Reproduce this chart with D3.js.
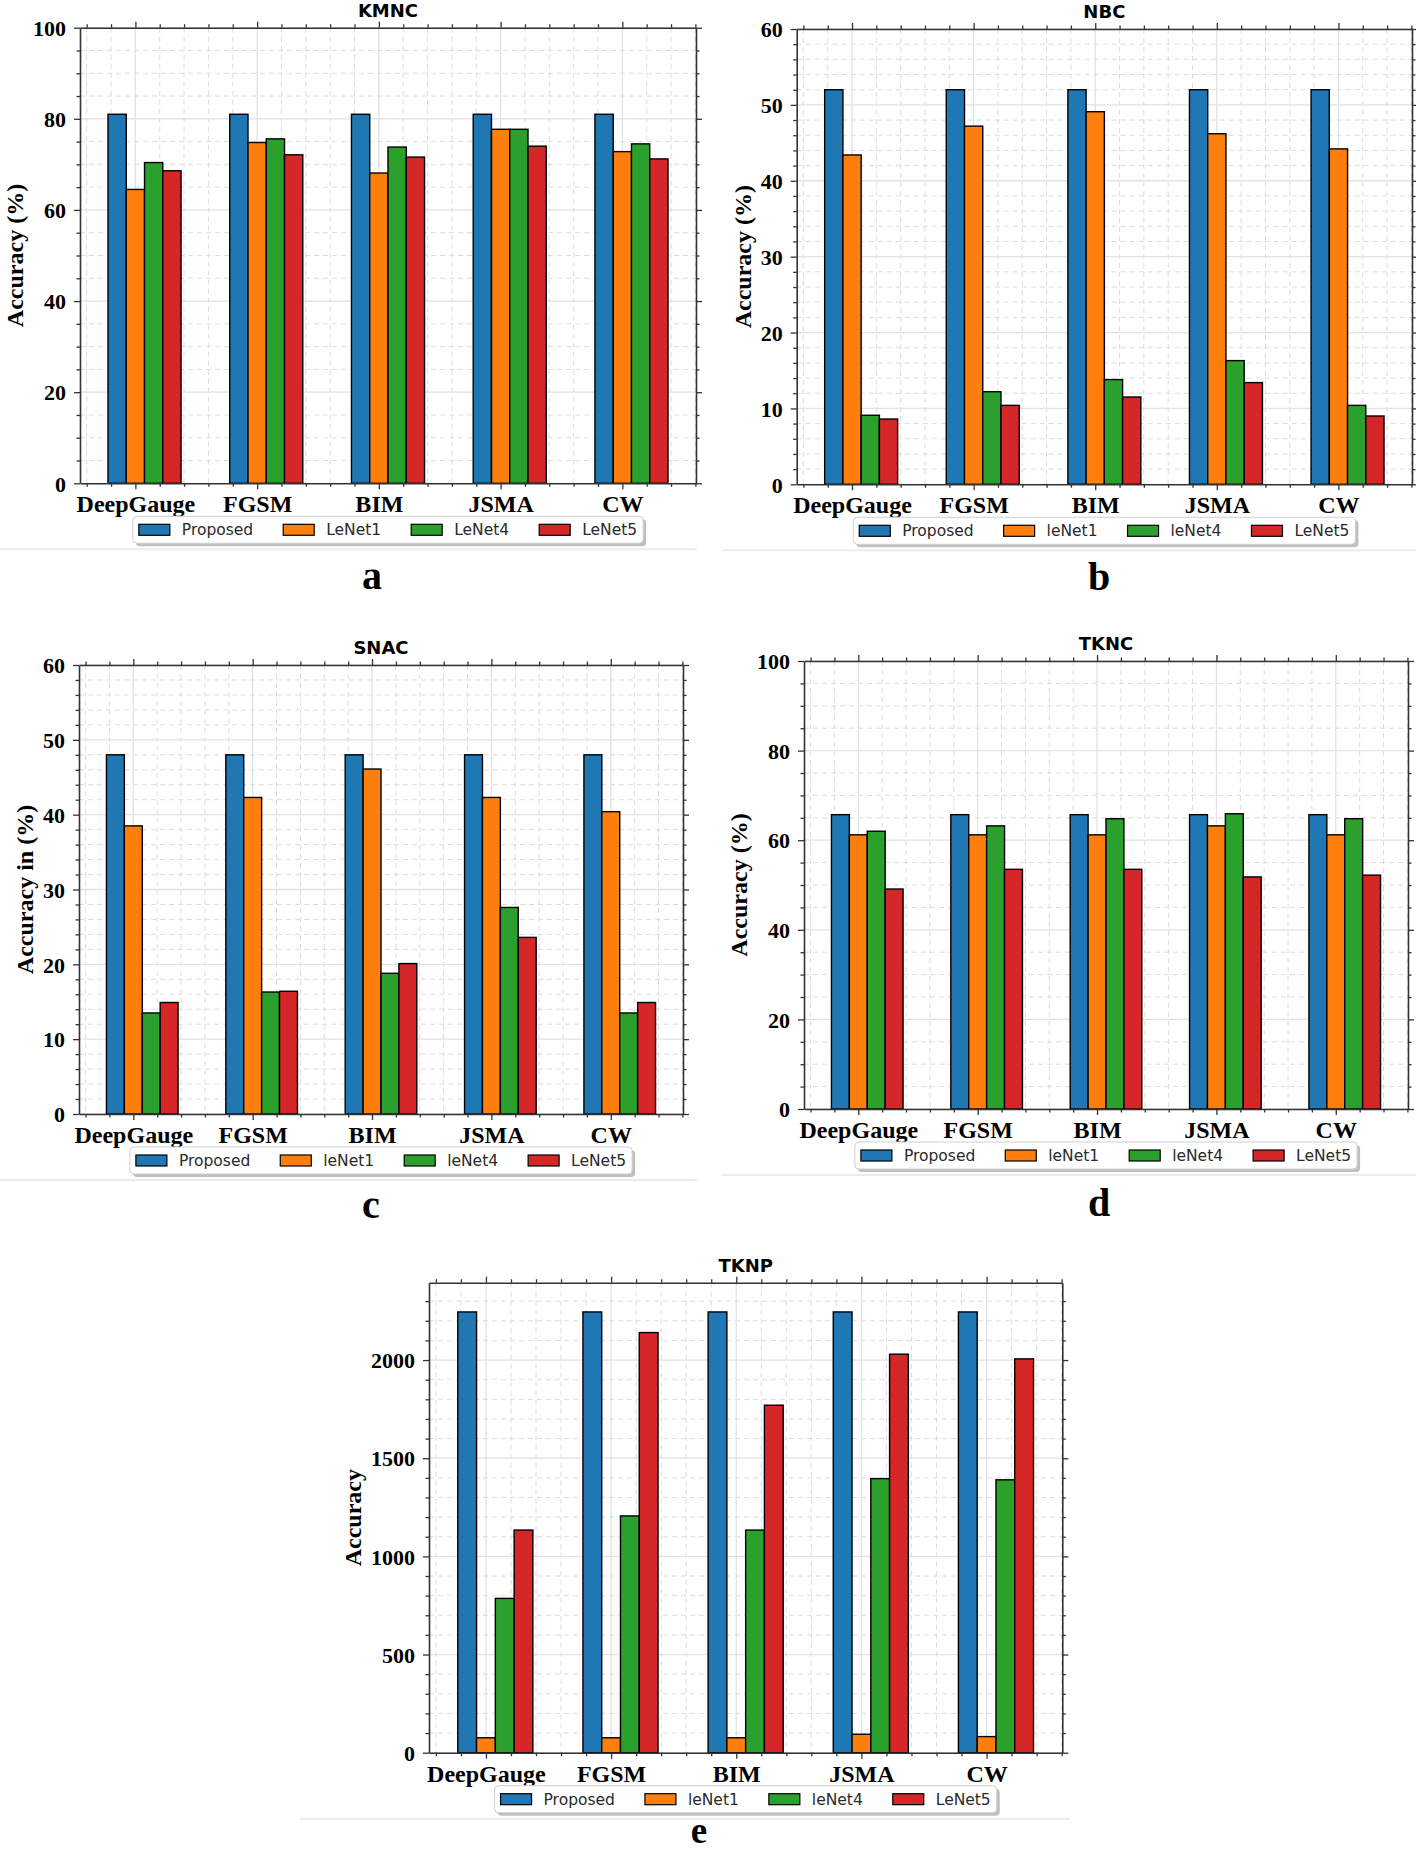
<!DOCTYPE html>
<html><head><meta charset="utf-8">
<script src="https://cdn.jsdelivr.net/npm/d3@7"></script>
<style>body{margin:0;background:#fff}</style>
</head><body>
<svg id="c" width="1416" height="1856" xmlns="http://www.w3.org/2000/svg"></svg>
<script>
// ---------------- data ----------------
const categories = ["DeepGauge", "FGSM", "BIM", "JSMA", "CW"];
const legendA = ["Proposed", "LeNet1", "LeNet4", "LeNet5"];
const legendB = ["Proposed", "leNet1", "leNet4", "LeNet5"];
const seriesColors = ["#1f77b4", "#ff7f0e", "#2ca02c", "#d62728"];

// KMNC
const kmncProposed = [81, 81, 81, 81, 81];
const kmncLeNet1   = [64.5, 74.8, 68.1, 77.7, 72.8];
const kmncLeNet4   = [70.4, 75.6, 73.8, 77.7, 74.5];
const kmncLeNet5   = [68.6, 72.1, 71.6, 74.0, 71.2];
// NBC
const nbcProposed = [52, 52, 52, 52, 52];
const nbcLeNet1   = [43.4, 47.2, 49.1, 46.2, 44.2];
const nbcLeNet4   = [9.1, 12.2, 13.8, 16.3, 10.4];
const nbcLeNet5   = [8.6, 10.4, 11.5, 13.4, 9.0];
// SNAC
const snacProposed = [48, 48, 48, 48, 48];
const snacLeNet1   = [38.5, 42.3, 46.1, 42.3, 40.4];
const snacLeNet4   = [13.5, 16.3, 18.8, 27.6, 13.5];
const snacLeNet5   = [14.9, 16.4, 20.1, 23.6, 14.9];
// TKNC
const tkncProposed = [65.7, 65.7, 65.7, 65.7, 65.7];
const tkncLeNet1   = [61.2, 61.2, 61.2, 63.2, 61.2];
const tkncLeNet4   = [62.0, 63.2, 64.8, 65.9, 64.8];
const tkncLeNet5   = [49.1, 53.5, 53.5, 51.8, 52.2];
// TKNP
const tknpProposed = [2245, 2245, 2245, 2245, 2245];
const tknpLeNet1   = [76, 76, 76, 94, 82];
const tknpLeNet4   = [786, 1206, 1134, 1396, 1390];
const tknpLeNet5   = [1134, 2140, 1770, 2030, 2006];

// tick labels
const ticks100 = [0, 20, 40, 60, 80, 100];
const ticks60  = [0, 10, 20, 30, 40, 50, 60];
const ticksTknp = [0, 500, 1000, 1500, 2000];

// ---------------- drawing ----------------
const svg = d3.select("#c");
const SERIF = "'Liberation Serif','Times New Roman',serif";
const SANS = "'DejaVu Sans',sans-serif";

function drawPanel(p) {
  const g = svg.append("g");
  const x = d3.scaleLinear().domain([-0.455, 4.605]).range([p.left, p.right]);
  const y = d3.scaleLinear().domain([0, p.ymax]).range([p.bottom, p.top]);
  const xMajor = d3.range(categories.length);
  const xMinor = d3.range(-2, 24).filter(k => k % 5 !== 0).map(k => k / 5);
  const nMinor = Math.floor(p.ymax / p.minorStep + 1e-9);
  const yMinor = d3.range(0, nMinor + 1).map(k => k * p.minorStep)
    .filter(v => Math.abs(v / p.majorStep - Math.round(v / p.majorStep)) > 1e-6);

  // minor grid (dashed)
  g.append("g").selectAll("line").data(xMinor).join("line")
    .attr("x1", d => x(d)).attr("x2", d => x(d)).attr("y1", p.top).attr("y2", p.bottom)
    .attr("stroke", "#dcdcdc").attr("stroke-width", 1).attr("stroke-dasharray", "5,4");
  g.append("g").selectAll("line").data(yMinor).join("line")
    .attr("y1", d => y(d)).attr("y2", d => y(d)).attr("x1", p.left).attr("x2", p.right)
    .attr("stroke", "#dcdcdc").attr("stroke-width", 1).attr("stroke-dasharray", "5,4");
  // major grid (solid)
  g.append("g").selectAll("line").data(xMajor).join("line")
    .attr("x1", d => x(d)).attr("x2", d => x(d)).attr("y1", p.top).attr("y2", p.bottom)
    .attr("stroke", "#e2e2e2").attr("stroke-width", 1.3);
  g.append("g").selectAll("line").data(p.ticks).join("line")
    .attr("y1", d => y(d)).attr("y2", d => y(d)).attr("x1", p.left).attr("x2", p.right)
    .attr("stroke", "#e2e2e2").attr("stroke-width", 1.3);

  // bars
  const bw = 0.15;
  g.append("g").selectAll("g").data(p.series).join("g")
    .attr("fill", (d, i) => seriesColors[i])
    .selectAll("rect").data((d, i) => d.map((v, j) => ({ v, j, i }))).join("rect")
    .attr("x", d => x(d.j + (d.i - 1) * bw - bw / 2))
    .attr("width", x(bw) - x(0))
    .attr("y", d => y(d.v))
    .attr("height", d => y(0) - y(d.v))
    .attr("stroke", "#000").attr("stroke-width", 1.4);

  function styleAxis(sel) {
    sel.selectAll(".domain").attr("stroke", "#333").attr("stroke-width", 1.6);
    sel.selectAll(".tick line").attr("stroke", "#333").attr("stroke-width", 1.3);
  }
  // bottom
  const gb = g.append("g").attr("transform", `translate(0,${p.bottom})`)
    .call(d3.axisBottom(x).tickValues(xMajor).tickFormat(i => categories[i])
      .tickSize(6).tickPadding(6).tickSizeOuter(0));
  gb.selectAll("text").attr("font-family", SERIF).attr("font-weight", "bold")
    .attr("font-size", 24).attr("fill", "#000");
  styleAxis(gb);
  const gbm = g.append("g").attr("transform", `translate(0,${p.bottom})`)
    .call(d3.axisBottom(x).tickValues(xMinor).tickFormat("").tickSize(3.5).tickSizeOuter(0));
  gbm.select(".domain").remove(); styleAxis(gbm);
  // top
  const gt = g.append("g").attr("transform", `translate(0,${p.top})`)
    .call(d3.axisTop(x).tickValues(xMajor).tickFormat("").tickSize(6).tickSizeOuter(0));
  styleAxis(gt);
  const gtm = g.append("g").attr("transform", `translate(0,${p.top})`)
    .call(d3.axisTop(x).tickValues(xMinor).tickFormat("").tickSize(3.5).tickSizeOuter(0));
  gtm.select(".domain").remove(); styleAxis(gtm);
  // left
  const gl = g.append("g").attr("transform", `translate(${p.left},0)`)
    .call(d3.axisLeft(y).tickValues(p.ticks).tickFormat(d3.format("d"))
      .tickSize(6).tickPadding(8).tickSizeOuter(0));
  gl.selectAll("text").attr("font-family", SERIF).attr("font-weight", "bold")
    .attr("font-size", 22).attr("fill", "#000").attr("dy", "0.35em");
  styleAxis(gl);
  const glm = g.append("g").attr("transform", `translate(${p.left},0)`)
    .call(d3.axisLeft(y).tickValues(yMinor).tickFormat("").tickSize(3.5).tickSizeOuter(0));
  glm.select(".domain").remove(); styleAxis(glm);
  // right
  const gr = g.append("g").attr("transform", `translate(${p.right},0)`)
    .call(d3.axisRight(y).tickValues(p.ticks).tickFormat("").tickSize(6).tickSizeOuter(0));
  styleAxis(gr);
  const grm = g.append("g").attr("transform", `translate(${p.right},0)`)
    .call(d3.axisRight(y).tickValues(yMinor).tickFormat("").tickSize(3.5).tickSizeOuter(0));
  grm.select(".domain").remove(); styleAxis(grm);

  // y label, placed left of the tick labels
  let minX = Infinity;
  gl.selectAll("text").each(function () { const b = this.getBBox(); minX = Math.min(minX, p.left + b.x); });
  const ly = (p.top + p.bottom) / 2, lx = minX - 18.5;
  g.append("text").attr("transform", `translate(${lx},${ly}) rotate(-90)`)
    .attr("text-anchor", "middle").attr("dy", "0.35em")
    .attr("font-family", SERIF).attr("font-weight", "bold").attr("font-size", 24)
    .text(p.ylabel);

  // title
  g.append("text").attr("x", (p.left + p.right) / 2).attr("y", p.top - 11)
    .attr("text-anchor", "middle").attr("font-family", SANS).attr("font-weight", "bold")
    .attr("font-size", 18).attr("fill", "#000").text(p.title);

  // legend
  const fs = 15.5, pad = 6, hw = 31, hh = 11, tp = 12, cs = 30, lh = 27;
  const lg = g.append("g");
  const ltop = p.bottom + 33;
  const shadow = lg.append("rect"), box = lg.append("rect");
  const items = lg.selectAll("g").data(p.legend).join("g");
  const texts = items.append("text").attr("font-family", SANS).attr("font-size", fs)
    .attr("fill", "#2a2a2a").attr("dy", "0.35em").text(d => d);
  const widths = []; texts.each(function () { widths.push(this.getComputedTextLength()); });
  let total = pad * 2 + d3.sum(widths) + p.legend.length * (hw + tp) + (p.legend.length - 1) * cs;
  const lx0 = (p.left + p.right) / 2 - total / 2;
  let cx = lx0 + pad;
  const cy = ltop + lh / 2;
  items.each(function (d, i) {
    const it = d3.select(this);
    it.insert("rect", "text").attr("x", cx).attr("y", cy - hh / 2).attr("width", hw).attr("height", hh)
      .attr("fill", seriesColors[i]).attr("stroke", "#000").attr("stroke-width", 1.2);
    it.select("text").attr("x", cx + hw + tp).attr("y", cy);
    cx += hw + tp + widths[i] + cs;
  });
  shadow.attr("x", lx0 + 3).attr("y", ltop + 3).attr("width", total).attr("height", lh)
    .attr("rx", 4).attr("fill", "#8a8a8a").attr("opacity", 0.55);
  box.attr("x", lx0).attr("y", ltop).attr("width", total).attr("height", lh)
    .attr("rx", 4).attr("fill", "#fff").attr("stroke", "#cfcfcf").attr("stroke-width", 1);

  // faint separator line below legend (from source composite)
  g.insert("line", ":first-child").attr("x1", p.sepX1).attr("x2", p.sepX2)
    .attr("y1", ltop + 33).attr("y2", ltop + 33)
    .attr("stroke", "#e6ecf7").attr("stroke-width", 2);

  // panel letter
  g.append("text").attr("x", p.letterX).attr("y", p.letterY).attr("text-anchor", "middle")
    .attr("font-family", SERIF).attr("font-weight", "bold").attr("font-size", p.letterSize || 40)
    .text(p.letter);
}

drawPanel({ left: 80, right: 696, top: 27.7, bottom: 483.3, ymax: 100, majorStep: 20, minorStep: 5,
  ticks: ticks100, title: "KMNC", ylabel: "Accuracy (%)", legend: legendA,
  series: [kmncProposed, kmncLeNet1, kmncLeNet4, kmncLeNet5],
  letter: "a", letterX: 372, letterY: 589, sepX1: 0, sepX2: 697 });

drawPanel({ left: 796.7, right: 1412, top: 29, bottom: 484.3, ymax: 60, majorStep: 10, minorStep: 2,
  ticks: ticks60, title: "NBC", ylabel: "Accuracy (%)", legend: legendB,
  series: [nbcProposed, nbcLeNet1, nbcLeNet4, nbcLeNet5],
  letter: "b", letterX: 1099, letterY: 590, sepX1: 723, sepX2: 1416 });

drawPanel({ left: 79, right: 683, top: 665, bottom: 1114, ymax: 60, majorStep: 10, minorStep: 2,
  ticks: ticks60, title: "SNAC", ylabel: "Accuracy in (%)", legend: legendB,
  series: [snacProposed, snacLeNet1, snacLeNet4, snacLeNet5],
  letter: "c", letterX: 371, letterY: 1218, sepX1: 0, sepX2: 697 });

drawPanel({ left: 804, right: 1408, top: 661, bottom: 1109, ymax: 100, majorStep: 20, minorStep: 5,
  ticks: ticks100, title: "TKNC", ylabel: "Accuracy (%)", legend: legendB,
  series: [tkncProposed, tkncLeNet1, tkncLeNet4, tkncLeNet5],
  letter: "d", letterX: 1099, letterY: 1216, sepX1: 722, sepX2: 1416 });

drawPanel({ left: 429, right: 1062.3, top: 1282.7, bottom: 1752.7, ymax: 2394, majorStep: 500, minorStep: 100,
  ticks: ticksTknp, title: "TKNP", ylabel: "Accuracy", legend: legendB,
  series: [tknpProposed, tknpLeNet1, tknpLeNet4, tknpLeNet5],
  letter: "e", letterX: 699, letterY: 1843, letterSize: 37, sepX1: 300, sepX2: 1070 });
</script>
</body></html>
